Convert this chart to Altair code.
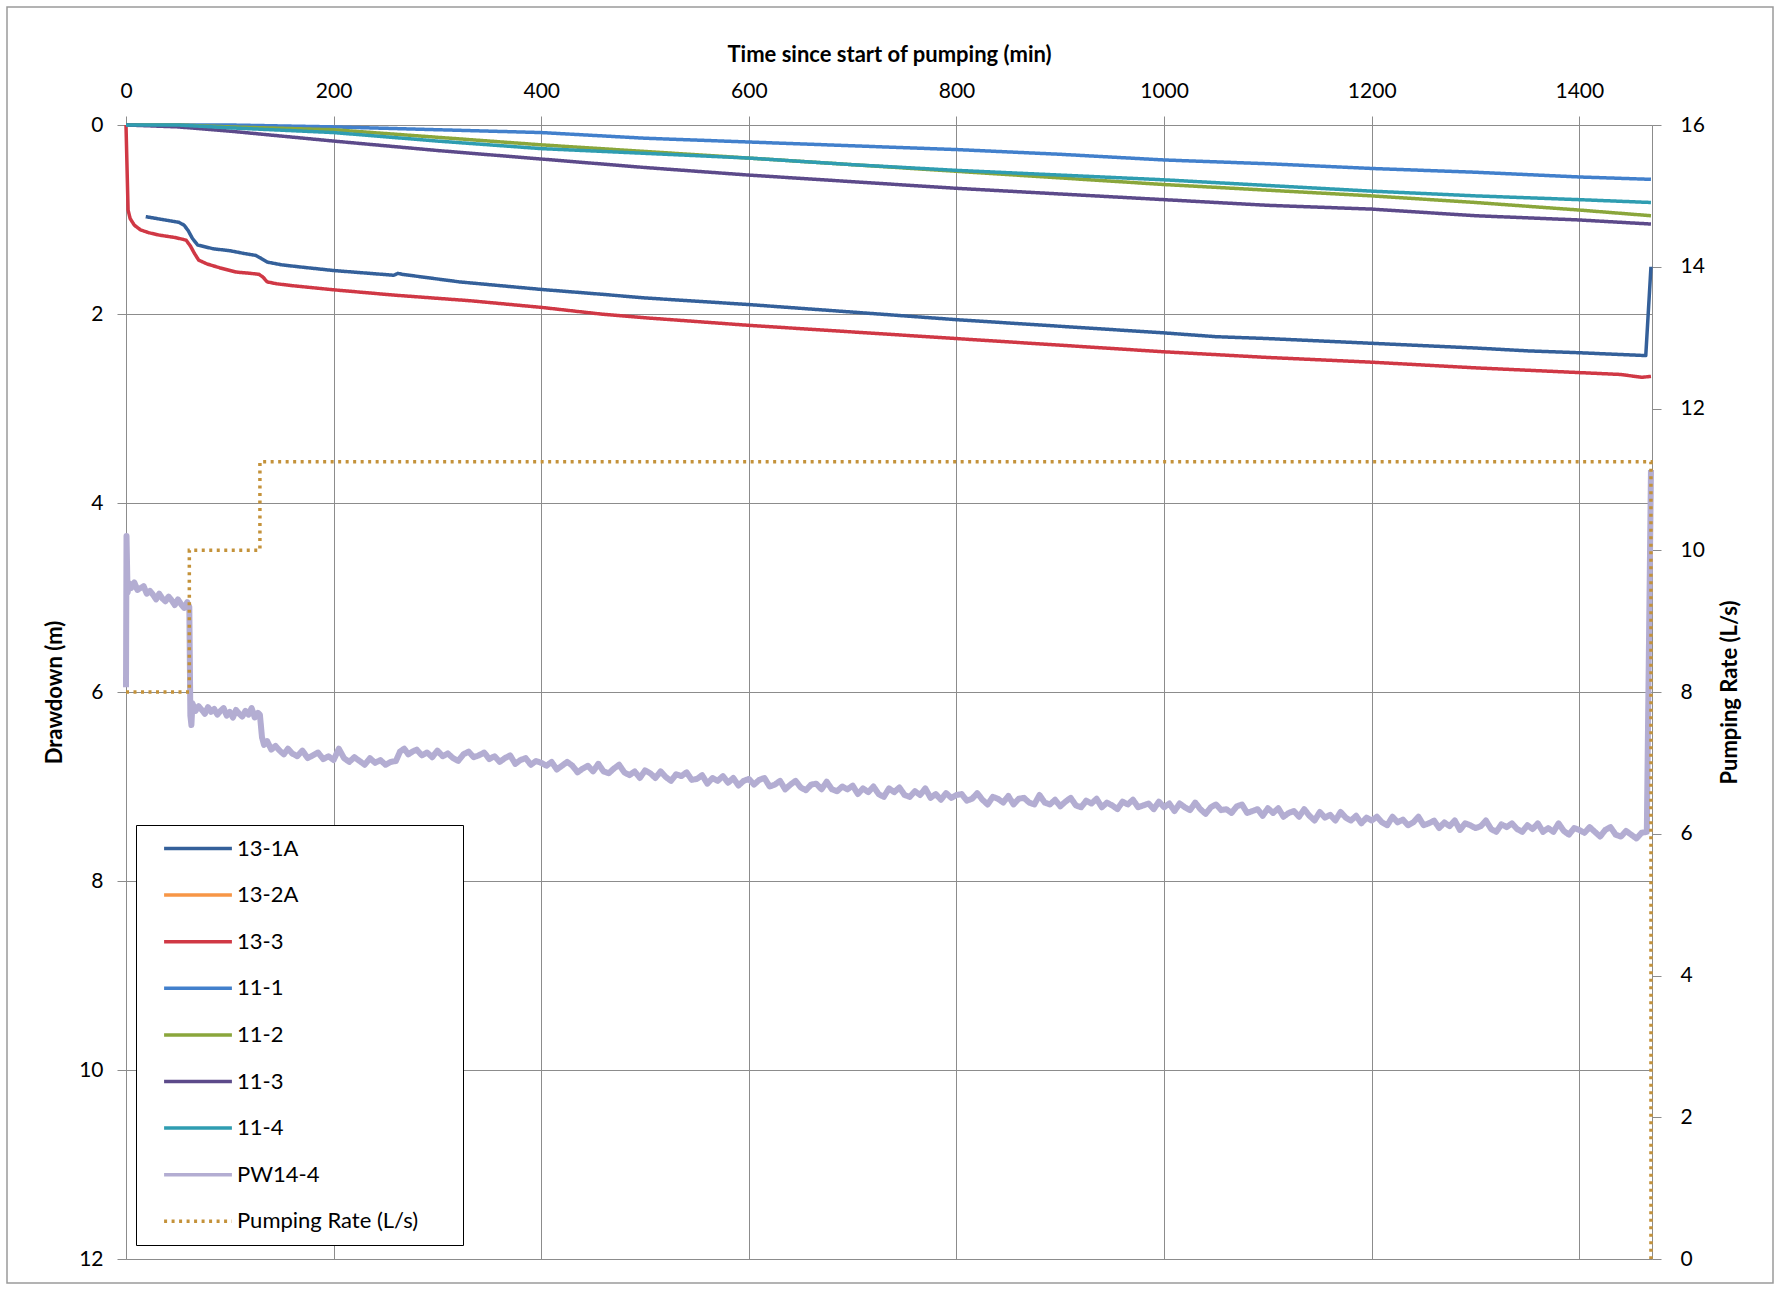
import altair as alt
import pandas as pd

# ---- series names, colours and dash styles (legend order) ----
SERIES = ["13-1A", "13-2A", "13-3", "11-1", "11-2", "11-3", "11-4", "PW14-4",
          "Pumping Rate (L/s)"]
COLORS = ["#34609a", "#f79646", "#d03845", "#4280cc", "#8aa63b", "#5c4a8a",
          "#2f9db1", "#b3add2", "#c4923a"]
DASHES = [[1, 0]] * 8 + [[3, 4.5]]

# ---- observation wells: time (min) and drawdown (m) ----
t_13_1a = [19, 35, 51, 56, 60, 64, 69, 84, 100, 114, 125, 130, 136, 150, 166, 200,
           258, 262, 266, 321, 400, 457, 500, 600, 700, 800, 900, 1000, 1050, 1100,
           1200, 1300, 1350, 1400, 1464, 1469]
d_13_1a = [0.97, 1.00, 1.03, 1.06, 1.12, 1.20, 1.27, 1.31, 1.33, 1.36, 1.38, 1.41,
           1.45, 1.48, 1.50, 1.54, 1.59, 1.57, 1.58, 1.66, 1.74, 1.79, 1.83, 1.90,
           1.98, 2.06, 2.13, 2.20, 2.24, 2.26, 2.31, 2.36, 2.39, 2.41, 2.44, 1.50]

t_13_3 = [0, 1, 2, 4, 8, 14, 22, 32, 47, 55, 58, 62, 66, 70, 78, 90, 106, 120, 128,
          132, 136, 145, 160, 200, 258, 332, 400, 457, 500, 600, 700, 800, 900, 1000,
          1100, 1200, 1300, 1400, 1440, 1460, 1469]
d_13_3 = [0.00, 0.45, 0.90, 0.99, 1.06, 1.11, 1.14, 1.165, 1.19, 1.21, 1.22, 1.28,
          1.36, 1.43, 1.47, 1.51, 1.556, 1.57, 1.58, 1.61, 1.66, 1.68, 1.70, 1.744,
          1.80, 1.86, 1.93, 2.00, 2.04, 2.12, 2.19, 2.26, 2.33, 2.40, 2.46, 2.51, 2.57,
          2.62, 2.64, 2.67, 2.66]

t_11 = [0, 50, 100, 200, 300, 400, 500, 600, 700, 800, 900, 1000, 1100, 1200, 1300,
        1400, 1469]
d_11_1 = [0.00, 0.00, 0.00, 0.02, 0.05, 0.08, 0.14, 0.18, 0.22, 0.26, 0.31, 0.37,
          0.41, 0.46, 0.50, 0.55, 0.575]
d_11_2 = [0.00, 0.00, 0.02, 0.05, 0.13, 0.21, 0.28, 0.35, 0.42, 0.49, 0.56, 0.63,
          0.69, 0.75, 0.82, 0.90, 0.96]
d_11_3 = [0.00, 0.02, 0.065, 0.17, 0.27, 0.36, 0.45, 0.53, 0.60, 0.67, 0.73, 0.79,
          0.85, 0.89, 0.96, 1.005, 1.048]
d_11_4 = [0.00, 0.00, 0.03, 0.08, 0.17, 0.25, 0.30, 0.35, 0.42, 0.48, 0.53, 0.58,
          0.64, 0.70, 0.75, 0.79, 0.82]

# ---- pumping well PW14-4 (logger record) ----
pw_t_early = [0, 0.5, 1.5, 3, 5, 8, 11, 14, 17, 20, 23, 26, 29, 32, 35, 38, 41, 44,
              47, 50, 53, 56, 59, 61,
              62, 63, 64, 67, 70, 73, 76, 79, 82, 85, 88, 91, 94, 97, 100, 103, 106,
              109, 112, 115, 118, 121, 124, 127, 129,
              131, 133, 136, 140, 144, 148, 152, 156, 160, 165, 170, 175, 180, 185,
              190, 195, 200, 205, 210, 215, 220, 225, 230, 235, 240, 245, 250, 255,
              260,
              264, 268, 272, 276, 280, 285, 290, 295, 300, 305, 310, 315, 320, 325,
              330, 335, 340, 345, 350, 355, 360, 365, 370, 375, 380, 385, 390, 395,
              400]
pw_d_early = [5.95, 4.35, 4.95, 4.85, 4.90, 4.84, 4.92, 4.90, 4.88, 4.96, 4.93, 4.97,
              5.02, 4.96, 5.01, 5.04, 4.99, 5.03, 5.08, 5.02, 5.07, 5.11, 5.05, 5.10,
              6.25, 6.35, 6.12, 6.20, 6.15, 6.19, 6.23, 6.16, 6.21, 6.18, 6.24, 6.20,
              6.17, 6.25, 6.21, 6.27, 6.19, 6.23, 6.26, 6.20, 6.24, 6.17, 6.27, 6.22,
              6.24,
              6.48, 6.56, 6.52, 6.61, 6.57, 6.62, 6.66, 6.60, 6.65, 6.68, 6.62, 6.70,
              6.67, 6.64, 6.71, 6.68, 6.72, 6.60, 6.70, 6.74, 6.69, 6.73, 6.77, 6.70,
              6.75, 6.72, 6.77, 6.74, 6.73,
              6.63, 6.60, 6.66, 6.63, 6.61, 6.67, 6.64, 6.69, 6.62, 6.68, 6.65, 6.70,
              6.73, 6.66, 6.63, 6.69, 6.67, 6.64, 6.71, 6.68, 6.74, 6.70, 6.67, 6.76,
              6.72, 6.70, 6.77, 6.73, 6.75]
# 5-minute readings from 405 to 1465 min
pw_t_late = list(range(405, 1466, 5))
pw_d_late = [
    6.78, 6.74, 6.82, 6.78, 6.74, 6.78, 6.85, 6.81, 6.78, 6.84, 6.76, 6.84, 6.86, 6.81, 6.77, 6.85, 6.88, 6.84, 6.91, 6.83,
    6.86, 6.91, 6.84, 6.90, 6.94, 6.87, 6.89, 6.85, 6.93, 6.92, 6.88, 6.97, 6.91, 6.94, 6.89, 6.96, 6.91, 6.99, 6.94, 6.92,
    6.98, 6.93, 6.91, 7.00, 6.98, 6.94, 7.03, 6.98, 6.94, 7.01, 7.04, 6.98, 6.97, 7.03, 6.95, 7.03, 7.05, 7.00, 7.03, 6.99,
    7.08, 7.02, 7.06, 7.00, 7.08, 7.11, 7.02, 7.06, 7.01, 7.09, 7.11, 7.05, 7.09, 7.02, 7.12, 7.08, 7.14, 7.07, 7.12, 7.09,
    7.08, 7.15, 7.13, 7.07, 7.14, 7.19, 7.11, 7.13, 7.17, 7.10, 7.19, 7.13, 7.12, 7.17, 7.19, 7.09, 7.17, 7.19, 7.14, 7.21,
    7.16, 7.12, 7.20, 7.22, 7.15, 7.18, 7.13, 7.22, 7.17, 7.20, 7.24, 7.16, 7.19, 7.14, 7.22, 7.20, 7.18, 7.24, 7.16, 7.22,
    7.18, 7.26, 7.18, 7.22, 7.25, 7.17, 7.24, 7.29, 7.22, 7.19, 7.25, 7.24, 7.28, 7.21, 7.19, 7.28, 7.26, 7.24, 7.31, 7.23,
    7.28, 7.23, 7.32, 7.28, 7.26, 7.32, 7.24, 7.31, 7.36, 7.27, 7.33, 7.30, 7.36, 7.27, 7.33, 7.36, 7.31, 7.39, 7.33, 7.36,
    7.32, 7.38, 7.41, 7.32, 7.38, 7.35, 7.41, 7.38, 7.32, 7.41, 7.39, 7.36, 7.44, 7.38, 7.42, 7.36, 7.46, 7.39, 7.41, 7.44,
    7.42, 7.36, 7.45, 7.48, 7.40, 7.43, 7.39, 7.45, 7.48, 7.41, 7.45, 7.39, 7.48, 7.44, 7.48, 7.39, 7.47, 7.51, 7.44, 7.46,
    7.49, 7.43, 7.48, 7.53, 7.46, 7.43, 7.51, 7.53, 7.47, 7.51, 7.55, 7.49, 7.48,
]
pw_t_end = [1469]
pw_d_end = [3.65]

# ---- pumping rate steps (L/s) ----
pump_t = [0, 61, 61, 129, 129, 1469, 1469]
pump_q = [8, 8, 10, 10, 11.25, 11.25, 0]

# ---- assemble long tables ----
rows = []


def add(name, ts, ds):
    for i, (t, d) in enumerate(zip(ts, ds)):
        rows.append({"series": name, "t": t, "d": d, "i": i})


add("PW14-4", pw_t_early + pw_t_late + pw_t_end, pw_d_early + pw_d_late + pw_d_end)
add("13-1A", t_13_1a, d_13_1a)
add("13-3", t_13_3, d_13_3)
add("11-1", t_11, d_11_1)
add("11-2", t_11, d_11_2)
add("11-3", t_11, d_11_3)
add("11-4", t_11, d_11_4)
drawdown = pd.DataFrame(rows)

pumping = pd.DataFrame({"series": "Pumping Rate (L/s)", "t": pump_t, "q": pump_q,
                        "i": list(range(len(pump_t)))})

FONT = "Lato"
GRID = "#8c8c8c"

# blank (non-whitespace) glyphs widen the legend box to the right of the labels
LABEL_PAD = "\u2800" * 2

legend = alt.Legend(
    title=None, orient="none", legendX=10, legendY=700,
    symbolType="stroke", symbolSize=4600, symbolStrokeWidth=3.5, symbolOffset=14,
    labelFont=FONT, labelFontSize=22, labelColor="black", labelOffset=3,
    labelLimit=400, labelExpr=f"datum.label + '{LABEL_PAD}'",
    clipHeight=23, rowPadding=23.6,
    strokeColor="black", fillColor="white", padding=12,
)

color = alt.Color("series:N", scale=alt.Scale(domain=SERIES, range=COLORS),
                  legend=legend)
dash = alt.StrokeDash("series:N", scale=alt.Scale(domain=SERIES, range=DASHES),
                      legend=legend)

x_enc = alt.X(
    "t:Q",
    scale=alt.Scale(domain=[0, 1470], nice=False, zero=False),
    axis=alt.Axis(
        orient="top", values=list(range(0, 1401, 200)), format="d",
        labelFlush=False,
        title="Time since start of pumping (min)",
        grid=True, gridColor=GRID, gridWidth=1,
        domainColor=GRID, tickColor=GRID, tickSize=9,
        labelFont=FONT, labelFontSize=21, labelColor="black", labelPadding=15,
        titleFont=FONT, titleFontSize=22, titleFontWeight="bold",
        titleColor="black", titlePadding=14,
    ),
)

lines = alt.Chart(drawdown).mark_line(strokeJoin="round").encode(
    x=x_enc,
    y=alt.Y(
        "d:Q",
        scale=alt.Scale(domain=[0, 12], reverse=True, nice=False),
        axis=alt.Axis(
            orient="left", values=list(range(0, 13, 2)), title="Drawdown (m)",
            grid=True, gridColor=GRID, gridWidth=1,
            domainColor=GRID, tickColor=GRID, tickSize=9,
            labelFont=FONT, labelFontSize=21, labelColor="black", labelPadding=14,
            titleFont=FONT, titleFontSize=22, titleFontWeight="bold",
            titleColor="black", titlePadding=12,
        ),
    ),
    color=color,
    strokeDash=dash,
    strokeWidth=alt.condition(alt.datum.series == "PW14-4", alt.value(6),
                              alt.value(3.5)),
    order="i:Q",
)

pump = alt.Chart(pumping).mark_line(strokeWidth=3.5).encode(
    x=x_enc,
    y=alt.Y(
        "q:Q",
        scale=alt.Scale(domain=[0, 16], nice=False),
        axis=alt.Axis(
            orient="right", values=list(range(0, 17, 2)),
            title="Pumping Rate (L/s)", grid=False,
            domainColor=GRID, tickColor=GRID, tickSize=9,
            labelFont=FONT, labelFontSize=21, labelColor="black", labelPadding=19,
            titleFont=FONT, titleFontSize=22, titleFontWeight="bold",
            titleColor="black", titlePadding=37, titleAngle=270,
        ),
    ),
    color=color,
    strokeDash=dash,
    order="i:Q",
)

# thin border around the whole chart area
frame = alt.Chart(pd.DataFrame({"k": [0]})).mark_rect(
    fillOpacity=0, stroke="#9a9a9a", strokeWidth=1.5
).encode(
    x=alt.value(-119), x2=alt.value(1647), y=alt.value(-118), y2=alt.value(1158)
)

chart = (
    alt.layer(lines, pump, frame)
    .resolve_scale(y="independent")
    .properties(
        width=1526, height=1134,
        autosize=alt.AutoSizeParams(type="none"),
        padding={"left": 126, "top": 125, "right": 130, "bottom": 30},
        background="white",
    )
    .configure_view(strokeWidth=0)
)

chart.save("out.html", embed_options={"renderer": "svg", "actions": False})
